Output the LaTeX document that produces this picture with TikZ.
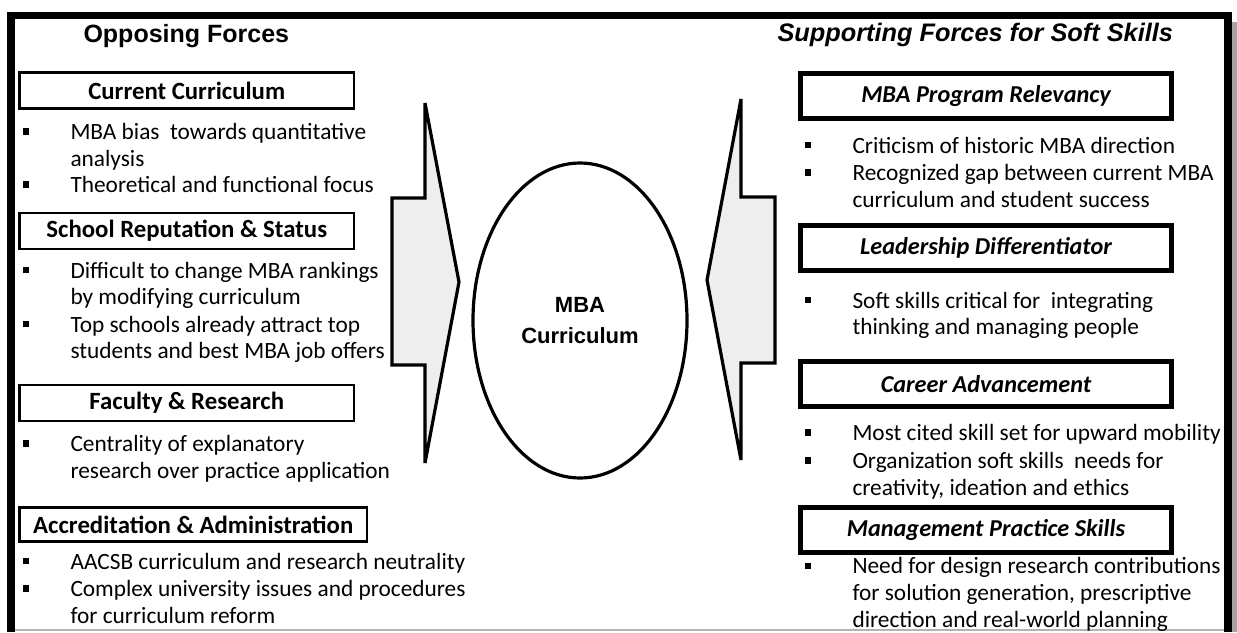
\documentclass[tikz,border=0pt]{standalone}
\usepackage{fontspec}
\setmainfont{Carlito}
\newfontfamily\arialfont{Liberation Sans}
\usetikzlibrary{shapes.geometric}

\definecolor{arrowgrey}{RGB}{238,238,238}
\definecolor{shadowgrey}{RGB}{165,165,165}
\definecolor{edgegrey}{RGB}{180,180,180}
\newcommand{\sqbul}{\llap{\rule[3.6pt]{5pt}{5pt}\hspace{31pt}}}

\tikzset{every picture/.style={line width=0.75pt}}
\tikzset{
  forcetitle/.style={anchor=base west, inner sep=0pt, font=\arialfont\bfseries\fontsize{18.75}{22}\selectfont},
  lefthead/.style={draw, line width=2pt, minimum width=250.9pt, minimum height=27pt, inner sep=0pt, font=\bfseries\fontsize{18.6}{20}\selectfont},
  righthead/.style={draw, line width=3.75pt, minimum width=278.25pt, minimum height=33.75pt, inner sep=0pt, font=\bfseries\itshape\fontsize{18.2}{20}\selectfont},
  itemtext/.style={anchor=base west, inner sep=0pt, align=left, font=\fontsize{17.5}{20}\selectfont},
  curriculum/.style={draw, ellipse, line width=2.4pt, minimum width=160.5pt, minimum height=236.25pt, inner sep=0pt, align=center, font=\arialfont\bfseries\fontsize{16.5}{23}\selectfont},
  forcearrow/.style={draw, fill=arrowgrey, line width=2.4pt},
}

\begin{document}
\begin{tikzpicture}[x=0.75pt,y=0.75pt,yscale=-1,xscale=1]
\useasboundingbox (0,0) rectangle (1237,632);

%Shape: Frame
\fill[shadowgrey] (1232,22) rectangle (1237,632);
\draw[edgegrey, line width=1.2pt] (14,630) -- (1226,630);
\draw[line width=5.6pt] (11,632) -- (11,15.5) -- (1228,15.5) -- (1228,632);

% Text Node
\node[forcetitle] (opposing) at (83,42) {Opposing Forces};
% Text Node
\node[forcetitle, font=\arialfont\bfseries\itshape\fontsize{19}{22}\selectfont] (supporting) at (777,41) {Supporting Forces for Soft Skills};

%Shape: Rectangle
\node[lefthead] (current) at (186.75,90.5) {Current Curriculum};
% multi-line items sit on the baseline of their last line
\node[itemtext] (current1) at (70,166.2) {\sqbul MBA bias~ towards quantitative\\analysis};
\node[itemtext] (current2) at (70,192.7) {\sqbul Theoretical and functional focus};

%Shape: Rectangle
\node[lefthead] (school) at (186.75,231) {School Reputation \& Status};
\node[itemtext] (school1) at (70,304.7) {\sqbul Difficult to change MBA rankings\\by modifying curriculum};
\node[itemtext] (school2) at (70,358.7) {\sqbul Top schools already attract top\\students and best MBA job offers};

%Shape: Rectangle
\node[lefthead] (faculty) at (186.75,403) {Faculty \& Research};
\node[itemtext] (faculty1) at (70,478.4) {\sqbul Centrality of explanatory\\research over practice application};

%Shape: Rectangle
\node[lefthead, minimum width=260.6pt, minimum height=25.5pt] (accred) at (193.25,524.5) {Accreditation \& Administration};
\node[itemtext] (accred1) at (70,569) {\sqbul AACSB curriculum and research neutrality};
\node[itemtext] (accred2) at (70,623.4) {\sqbul Complex university issues and procedures\\for curriculum reform};

%Shape: Block Arrows
\draw[forcearrow] (392,198) -- (425,198) -- (425,103) -- (459,282) -- (425,463) -- (425,365) -- (392,365) -- cycle;
\draw[forcearrow] (775,197) -- (741,197) -- (741,99) -- (707,280) -- (741,460) -- (741,363) -- (775,363) -- cycle;

%Shape: Ellipse
\node[curriculum] (mba) at (580,320.5) {MBA\\Curriculum};

%Shape: Rectangle
\node[righthead] (relevancy) at (986,95.7) {MBA Program Relevancy};
\node[itemtext] (relevancy1) at (852,153) {\sqbul Criticism of historic MBA direction};
\node[itemtext] (relevancy2) at (852,207.2) {\sqbul Recognized gap between current MBA\\curriculum and student success};

%Shape: Rectangle
\node[righthead] (leader) at (986,248) {Leadership Differentiator};
\node[itemtext] (leader1) at (852,334.7) {\sqbul Soft skills critical for~ integrating\\thinking and managing people};

%Shape: Rectangle
\node[righthead] (career) at (986,384) {Career Advancement};
\node[itemtext] (career1) at (852,440.7) {\sqbul Most cited skill set for upward mobility};
\node[itemtext] (career2) at (852,495) {\sqbul Organization soft skills~ needs for\\creativity, ideation and ethics};

%Shape: Rectangle
\node[righthead] (manage) at (986,530) {Management Practice Skills};
\node[itemtext] (manage1) at (852,627.3) {\sqbul Need for design research contributions\\for solution generation, prescriptive\\direction and real-world planning};

\end{tikzpicture}
\end{document}
